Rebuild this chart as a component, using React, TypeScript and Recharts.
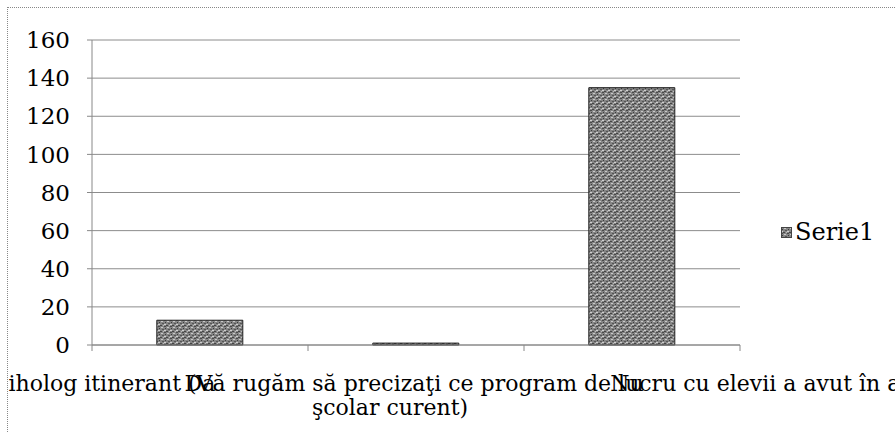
import React from "react";
import { BarChart, Bar, XAxis, YAxis, CartesianGrid, Legend } from "recharts";

const categories = [
  "Da",
  "Da, psiholog itinerant (Vă rugăm să precizaţi ce program de lucru cu elevii a avut în anul şcolar curent)",
  "Nu",
];
const values = [13, 1, 135];
const tickLines = [
  ["Da"],
  [
    "Da, psiholog itinerant (Vă rugăm să precizaţi ce program de lucru cu elevii a avut în anul",
    "şcolar curent)",
  ],
  ["Nu"],
];
const yTicks = [0, 20, 40, 60, 80, 100, 120, 140, 160];
const seriesName = "Serie1";

const data = categories.map((c, i) => ({ name: c, value: values[i] }));

const FONT = "'DejaVu Serif', serif";
const FS = 22;
const CHART_W = 887;
const CHART_H = 424;
const LEGEND_W = 110;
const MARGIN = { top: 32, right: 155 - LEGEND_W, bottom: 0, left: 0 };
const Y_W = 84;
const PLOT_W = CHART_W - 155 - Y_W;
const BAND = PLOT_W / categories.length;

const XTick = (props: any) => {
  const { x, y, payload, index } = props;
  const half = payload && payload.offset > 0 ? payload.offset : BAND / 2;
  const lines = tickLines[index] || [String(payload.value)];
  const isLast = index === categories.length - 1;
  return (
    <g>
      <line x1={x - half} x2={x - half} y1={y - 8} y2={y - 2} stroke="#888" />
      {isLast && <line x1={x + half} x2={x + half} y1={y - 8} y2={y - 2} stroke="#888" />}
      {lines.map((l, k) => {
        const dx = lines.length > 1 ? (k === 0 ? 21 : -26) : isLast ? -5 : 0;
        return (
          <text
            key={k}
            x={x + dx}
            y={y + 38 + k * 24}
            textAnchor="middle"
            fontFamily={FONT}
            fontSize={FS}
            fill="#000"
          >
            {l}
          </text>
        );
      })}
    </g>
  );
};

const LegendContent = () => (
  <div style={{ display: "flex", alignItems: "center", fontFamily: FONT, fontSize: 24, color: "#000" }}>
    <svg width={11} height={11} style={{ marginRight: 3 }}>
      <rect x={0.5} y={0.5} width={10} height={10} fill="url(#barTex)" stroke="#444" />
    </svg>
    <span>{seriesName}</span>
  </div>
);

export default function App() {
  return (
    <div
      style={{
        position: "absolute",
        left: 7,
        top: 7,
        width: CHART_W,
        height: CHART_H,
        borderLeft: "1px dotted #888",
        borderTop: "1px dotted #888",
        overflow: "hidden",
        background: "#fff",
      }}
    >
      <BarChart
        width={CHART_W}
        height={CHART_H}
        data={data}
        margin={MARGIN}
        barCategoryGap="30%"
      >
        <defs>
          <pattern id="barTex" width="6" height="6" patternUnits="userSpaceOnUse">
            <rect width="6" height="6" fill="#858585" />
            <rect x="0" y="0" width="2" height="1" fill="#4a4a4a" />
            <rect x="3" y="1" width="2" height="1" fill="#c8c8c8" />
            <rect x="1" y="2" width="1" height="1" fill="#3c3c3c" />
            <rect x="4" y="3" width="2" height="1" fill="#555" />
            <rect x="0" y="4" width="2" height="1" fill="#d0d0d0" />
            <rect x="2" y="5" width="2" height="1" fill="#444" />
            <rect x="5" y="5" width="1" height="1" fill="#bbb" />
          </pattern>
        </defs>
        <CartesianGrid horizontal vertical={false} stroke="#8c8c8c" />
        <XAxis
          dataKey="name"
          height={CHART_H - MARGIN.top - 305}
          interval={0}
          tickLine={false}
          axisLine={{ stroke: "#888" }}
          tick={<XTick />}
        />
        <YAxis
          width={Y_W}
          domain={[0, 160]}
          ticks={yTicks}
          interval={0}
          tickSize={5}
          tickMargin={17}
          axisLine={{ stroke: "#888" }}
          tickLine={{ stroke: "#888" }}
          tick={{ fontFamily: FONT, fontSize: 23, fill: "#000" }}
        />
        <Legend
          content={<LegendContent />}
          layout="horizontal"
          verticalAlign="middle"
          align="right"
          wrapperStyle={{ left: 773, top: 210, width: LEGEND_W, right: "auto" }}
        />
        <Bar
          dataKey="value"
          name={seriesName}
          fill="url(#barTex)"
          stroke="#222"
          strokeWidth={1}
          isAnimationActive={false}
        />
      </BarChart>
    </div>
  );
}
